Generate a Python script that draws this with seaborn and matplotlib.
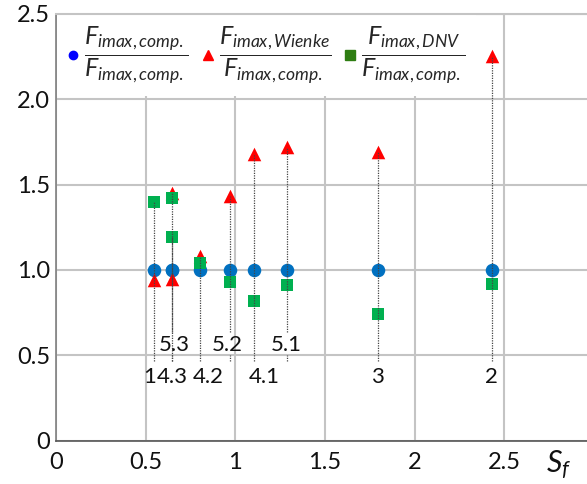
import matplotlib
matplotlib.use("Agg")
import matplotlib.pyplot as plt
from matplotlib.lines import Line2D
import numpy as np
import pandas as pd
import seaborn as sns

# Load cases and force ratios
cases = ["1", "4.3", "5.3", "4.2", "5.2", "4.1", "5.1", "3", "2"]
s_f = [0.545, 0.65, 0.65, 0.805, 0.97, 1.105, 1.29, 1.795, 2.43]
ratio_comp = [1.00, 1.00, 1.00, 1.00, 1.00, 1.00, 1.00, 1.00, 1.00]
ratio_wienke = [0.94, 0.95, 1.45, 1.08, 1.43, 1.68, 1.72, 1.69, 2.25]
ratio_dnv = [1.40, 1.19, 1.42, 1.04, 0.93, 0.82, 0.91, 0.74, 0.92]

x_ticks = [0, 0.5, 1, 1.5, 2, 2.5]
x_tick_labels = ["0", "0.5", "1", "1.5", "2", "2.5"]
y_ticks = [0, 0.5, 1.0, 1.5, 2.0, 2.5]
y_tick_labels = ["0", "0.5", "1.0", "1.5", "2.0", "2.5"]

series_names = ["comp", "wienke", "dnv"]
legend_labels = [
    r"$\dfrac{F_{imax,comp.}}{F_{imax,comp.}}$",
    r"$\dfrac{F_{imax,Wienke}}{F_{imax,comp.}}$",
    r"$\dfrac{F_{imax,DNV}}{F_{imax,comp.}}$",
]

# label placement: (dx in points, row) — row 0 lower, row 1 upper
label_dx = [-3, 0, 1, 6, -2, 7, -1, 0, 0]
label_row = [0, 0, 1, 0, 1, 0, 1, 0, 0]
label_y = [0.375, 0.56]
line_bottom = 0.465
gap_upper = (0.505, 0.64)   # guide interrupted around the upper-row labels

df = pd.DataFrame({
    "case": cases * 3,
    "s_f": s_f * 3,
    "series": np.repeat(series_names, len(cases)),
    "ratio": ratio_comp + ratio_wienke + ratio_dnv,
})

sns.set_theme(style="white")
plt.rcParams["font.family"] = ["Lato", "DejaVu Sans"]
plt.rcParams["mathtext.fontset"] = "custom"
plt.rcParams["mathtext.rm"] = "Lato"
plt.rcParams["mathtext.it"] = "Lato:italic"
plt.rcParams["mathtext.bf"] = "Lato:bold"

fig = plt.figure(figsize=(5.87, 4.84), dpi=100)
ax = fig.add_axes([0.095, 0.089, 0.905, 0.883])

palette = {"comp": "#0070C0", "wienke": "#FF0000", "dnv": "#00B050"}
markers = {"comp": "o", "wienke": "^", "dnv": "s"}
sizes = {"comp": 95, "wienke": 95, "dnv": 85}
for z, name in enumerate(series_names):
    sub = df[df["series"] == name]
    sns.scatterplot(data=sub, x="s_f", y="ratio", color=palette[name],
                    marker=markers[name], s=sizes[name], linewidth=0,
                    ax=ax, legend=False, zorder=3 + z)

# dotted guide from each case label up to its highest point
guide_kw = dict(linestyle=(0, (1, 1)), color="#444444", lw=0.9, zorder=7)
for i, c in enumerate(cases):
    top = max(ratio_comp[i], ratio_wienke[i], ratio_dnv[i])
    if label_row[i] == 1:
        ax.plot([s_f[i], s_f[i]], [line_bottom, gap_upper[0]], **guide_kw)
        ax.plot([s_f[i], s_f[i]], [gap_upper[1], top], **guide_kw)
    else:
        ax.plot([s_f[i], s_f[i]], [line_bottom, top], **guide_kw)
    ax.annotate(c, (s_f[i], label_y[label_row[i]]), xytext=(label_dx[i], 0),
                textcoords="offset points", ha="center", va="center",
                fontsize=16, color="#111111", zorder=8)

ax.set_xlim(0, 2.96)
ax.set_ylim(0, 2.5)
ax.set_xticks(x_ticks)
ax.set_xticklabels(x_tick_labels)
ax.set_yticks(y_ticks)
ax.set_yticklabels(y_tick_labels)
ax.tick_params(axis="both", length=0, labelsize=17, colors="#111111")
ax.tick_params(axis="x", pad=8)
ax.tick_params(axis="y", pad=4)
ax.grid(True, color="#C4C4C4", lw=1.5)
ax.set_axisbelow(True)
ax.set_xlabel("")
ax.set_ylabel("")
ax.spines["right"].set_visible(False)
ax.spines["top"].set_color("#C4C4C4")
ax.spines["top"].set_linewidth(1.5)
ax.spines["top"].set_zorder(20)
ax.spines["left"].set_color("#7F7F7F")
ax.spines["bottom"].set_color("#555555")
ax.spines["left"].set_linewidth(1.2)
ax.spines["bottom"].set_linewidth(1.2)

ax.text(0.946, -0.055, r"$S_f$", transform=ax.transAxes, fontsize=22,
        ha="center", va="center", color="#111111")

handles = [
    Line2D([], [], marker="o", color="#0000FF", linestyle="none", markersize=6),
    Line2D([], [], marker="^", color="#FF0000", linestyle="none", markersize=7),
    Line2D([], [], marker="s", color="#2E7D12", linestyle="none", markersize=7),
]
leg = ax.legend(handles, legend_labels, loc="upper left", bbox_to_anchor=(0.002, 0.997),
                ncol=3, frameon=True, fancybox=False, framealpha=1,
                facecolor="white", edgecolor="none", fontsize=18,
                handlelength=0.5, handletextpad=0.2, columnspacing=0.5,
                borderaxespad=0, borderpad=0.4)
leg.set_zorder(10)

fig.savefig("out.png", dpi=100)
